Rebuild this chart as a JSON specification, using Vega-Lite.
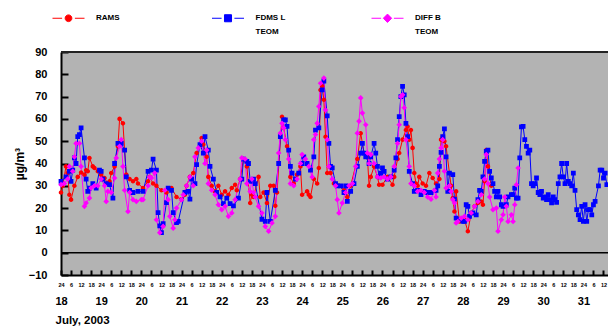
{
"$schema":"https://vega.github.io/schema/vega-lite/v6.json",
"width":547,"height":223,
"autosize":{"type":"none"},
"padding":{"left":61,"top":52,"right":0,"bottom":52},
"config":{"view":{"stroke":null,"fill":"#b3b3b3"},"font":"Liberation Sans","axis":{"grid":false},"axisY":{"labelOverlap":false,"labelFlush":false}},
"data":{"values":[
{"s":"RAMS","h":0,"v":27},{"s":"RAMS","h":1,"v":30},{"s":"RAMS","h":3,"v":38.7},{"s":"RAMS","h":4,"v":35.7},{"s":"RAMS","h":5,"v":26},{"s":"RAMS","h":6,"v":23.8},{"s":"RAMS","h":8,"v":30},{"s":"RAMS","h":10,"v":34},{"s":"RAMS","h":12,"v":36},{"s":"RAMS","h":14,"v":35},{"s":"RAMS","h":15,"v":37},{"s":"RAMS","h":16,"v":36.5},{"s":"RAMS","h":17,"v":42.5},{"s":"RAMS","h":19,"v":38.7},{"s":"RAMS","h":20,"v":38},{"s":"RAMS","h":22,"v":36.5},{"s":"RAMS","h":24,"v":35},{"s":"RAMS","h":26,"v":33.5},{"s":"RAMS","h":28,"v":31},{"s":"RAMS","h":29,"v":32},{"s":"RAMS","h":30,"v":35.7},{"s":"RAMS","h":32,"v":38.7},{"s":"RAMS","h":34,"v":47.7},{"s":"RAMS","h":35,"v":60},{"s":"RAMS","h":37,"v":58},{"s":"RAMS","h":38,"v":46},{"s":"RAMS","h":39,"v":35},{"s":"RAMS","h":41,"v":33},{"s":"RAMS","h":43,"v":32},{"s":"RAMS","h":45,"v":33},{"s":"RAMS","h":46,"v":31},{"s":"RAMS","h":49,"v":29},{"s":"RAMS","h":52,"v":32},{"s":"RAMS","h":53,"v":34},{"s":"RAMS","h":55,"v":31},{"s":"RAMS","h":57,"v":30},{"s":"RAMS","h":60,"v":28},{"s":"RAMS","h":63,"v":27},{"s":"RAMS","h":66,"v":29},{"s":"RAMS","h":69,"v":25},{"s":"RAMS","h":72,"v":24},{"s":"RAMS","h":74,"v":26},{"s":"RAMS","h":75,"v":30},{"s":"RAMS","h":77,"v":34},{"s":"RAMS","h":79,"v":35.7},{"s":"RAMS","h":81,"v":44.7},{"s":"RAMS","h":84,"v":51.4},{"s":"RAMS","h":85,"v":48.5},{"s":"RAMS","h":87,"v":43},{"s":"RAMS","h":88,"v":34},{"s":"RAMS","h":90,"v":30},{"s":"RAMS","h":92,"v":27.5},{"s":"RAMS","h":94,"v":30},{"s":"RAMS","h":96,"v":26},{"s":"RAMS","h":98,"v":27.5},{"s":"RAMS","h":100,"v":26},{"s":"RAMS","h":102,"v":29},{"s":"RAMS","h":104,"v":30.5},{"s":"RAMS","h":105,"v":28},{"s":"RAMS","h":107,"v":33},{"s":"RAMS","h":109,"v":42},{"s":"RAMS","h":111,"v":38.7},{"s":"RAMS","h":113,"v":22.3},{"s":"RAMS","h":114,"v":26},{"s":"RAMS","h":115,"v":25},{"s":"RAMS","h":118,"v":34},{"s":"RAMS","h":119,"v":25},{"s":"RAMS","h":121,"v":27},{"s":"RAMS","h":123,"v":22.3},{"s":"RAMS","h":125,"v":30},{"s":"RAMS","h":127,"v":30},{"s":"RAMS","h":128,"v":21},{"s":"RAMS","h":129,"v":27},{"s":"RAMS","h":132,"v":61},{"s":"RAMS","h":133,"v":56},{"s":"RAMS","h":135,"v":47.7},{"s":"RAMS","h":137,"v":34},{"s":"RAMS","h":139,"v":31},{"s":"RAMS","h":141,"v":35},{"s":"RAMS","h":143,"v":38.7},{"s":"RAMS","h":144,"v":26},{"s":"RAMS","h":147,"v":27.5},{"s":"RAMS","h":148,"v":26},{"s":"RAMS","h":149,"v":25},{"s":"RAMS","h":151,"v":33},{"s":"RAMS","h":153,"v":31},{"s":"RAMS","h":154,"v":38},{"s":"RAMS","h":155,"v":73},{"s":"RAMS","h":156,"v":74.6},{"s":"RAMS","h":157,"v":68.6},{"s":"RAMS","h":158,"v":52},{"s":"RAMS","h":159,"v":35.7},{"s":"RAMS","h":161,"v":35.7},{"s":"RAMS","h":163,"v":31},{"s":"RAMS","h":166,"v":30},{"s":"RAMS","h":169,"v":28},{"s":"RAMS","h":171,"v":25},{"s":"RAMS","h":173,"v":30},{"s":"RAMS","h":177,"v":42},{"s":"RAMS","h":179,"v":53.6},{"s":"RAMS","h":181,"v":44.7},{"s":"RAMS","h":183,"v":43},{"s":"RAMS","h":184,"v":30},{"s":"RAMS","h":185,"v":34},{"s":"RAMS","h":187,"v":38.7},{"s":"RAMS","h":189,"v":34},{"s":"RAMS","h":190,"v":30.5},{"s":"RAMS","h":192,"v":30.5},{"s":"RAMS","h":195,"v":34},{"s":"RAMS","h":198,"v":30.5},{"s":"RAMS","h":199,"v":34},{"s":"RAMS","h":201,"v":42},{"s":"RAMS","h":202,"v":44.7},{"s":"RAMS","h":204,"v":50.7},{"s":"RAMS","h":206,"v":55},{"s":"RAMS","h":207,"v":56.6},{"s":"RAMS","h":208,"v":50.7},{"s":"RAMS","h":209,"v":55},{"s":"RAMS","h":210,"v":47},{"s":"RAMS","h":211,"v":35.7},{"s":"RAMS","h":212,"v":31},{"s":"RAMS","h":213,"v":30},{"s":"RAMS","h":214,"v":34},{"s":"RAMS","h":216,"v":31},{"s":"RAMS","h":218,"v":30},{"s":"RAMS","h":220,"v":35.7},{"s":"RAMS","h":222,"v":33.5},{"s":"RAMS","h":224,"v":31},{"s":"RAMS","h":226,"v":33},{"s":"RAMS","h":227,"v":50.7},{"s":"RAMS","h":228,"v":52},{"s":"RAMS","h":229,"v":50},{"s":"RAMS","h":230,"v":47.7},{"s":"RAMS","h":232,"v":35.7},{"s":"RAMS","h":233,"v":30},{"s":"RAMS","h":234,"v":24.5},{"s":"RAMS","h":235,"v":18.5},{"s":"RAMS","h":236,"v":27.5},{"s":"RAMS","h":238,"v":14},{"s":"RAMS","h":241,"v":14.8},{"s":"RAMS","h":243,"v":9.6},{"s":"RAMS","h":245,"v":17.8},{"s":"RAMS","h":247,"v":20.8},{"s":"RAMS","h":249,"v":22.3},{"s":"RAMS","h":251,"v":23},{"s":"RAMS","h":252,"v":21.5},{"s":"RAMS","h":253,"v":32},{"s":"RAMS","h":254,"v":46},{"s":"RAMS","h":255,"v":38.7},{"s":"RAMS","h":257,"v":30},
{"s":"FDMS L TEOM","h":0,"v":32},{"s":"FDMS L TEOM","h":3,"v":34},{"s":"FDMS L TEOM","h":5,"v":36.5},{"s":"FDMS L TEOM","h":6,"v":32},{"s":"FDMS L TEOM","h":7,"v":37},{"s":"FDMS L TEOM","h":8,"v":42.5},{"s":"FDMS L TEOM","h":9,"v":40},{"s":"FDMS L TEOM","h":10,"v":52},{"s":"FDMS L TEOM","h":11,"v":53},{"s":"FDMS L TEOM","h":12,"v":56},{"s":"FDMS L TEOM","h":14,"v":42.5},{"s":"FDMS L TEOM","h":15,"v":33},{"s":"FDMS L TEOM","h":16,"v":27.5},{"s":"FDMS L TEOM","h":17,"v":29},{"s":"FDMS L TEOM","h":19,"v":31},{"s":"FDMS L TEOM","h":21,"v":29},{"s":"FDMS L TEOM","h":23,"v":37},{"s":"FDMS L TEOM","h":24,"v":36.5},{"s":"FDMS L TEOM","h":25,"v":33},{"s":"FDMS L TEOM","h":27,"v":31},{"s":"FDMS L TEOM","h":29,"v":30.5},{"s":"FDMS L TEOM","h":31,"v":24.5},{"s":"FDMS L TEOM","h":32,"v":40},{"s":"FDMS L TEOM","h":34,"v":49},{"s":"FDMS L TEOM","h":36,"v":49},{"s":"FDMS L TEOM","h":38,"v":46},{"s":"FDMS L TEOM","h":39,"v":34},{"s":"FDMS L TEOM","h":41,"v":28},{"s":"FDMS L TEOM","h":43,"v":27},{"s":"FDMS L TEOM","h":46,"v":27.5},{"s":"FDMS L TEOM","h":49,"v":27.5},{"s":"FDMS L TEOM","h":52,"v":36.5},{"s":"FDMS L TEOM","h":54,"v":37},{"s":"FDMS L TEOM","h":55,"v":42},{"s":"FDMS L TEOM","h":57,"v":37},{"s":"FDMS L TEOM","h":58,"v":18},{"s":"FDMS L TEOM","h":59,"v":12},{"s":"FDMS L TEOM","h":60,"v":9},{"s":"FDMS L TEOM","h":61,"v":13},{"s":"FDMS L TEOM","h":63,"v":22.5},{"s":"FDMS L TEOM","h":64,"v":29},{"s":"FDMS L TEOM","h":66,"v":28},{"s":"FDMS L TEOM","h":67,"v":18},{"s":"FDMS L TEOM","h":69,"v":13.5},{"s":"FDMS L TEOM","h":70,"v":14},{"s":"FDMS L TEOM","h":74,"v":27},{"s":"FDMS L TEOM","h":76,"v":27.5},{"s":"FDMS L TEOM","h":77,"v":24},{"s":"FDMS L TEOM","h":78,"v":33},{"s":"FDMS L TEOM","h":80,"v":31},{"s":"FDMS L TEOM","h":81,"v":39.5},{"s":"FDMS L TEOM","h":83,"v":48.5},{"s":"FDMS L TEOM","h":85,"v":44.7},{"s":"FDMS L TEOM","h":86,"v":52},{"s":"FDMS L TEOM","h":88,"v":46},{"s":"FDMS L TEOM","h":89,"v":38.7},{"s":"FDMS L TEOM","h":91,"v":33},{"s":"FDMS L TEOM","h":93,"v":27},{"s":"FDMS L TEOM","h":95,"v":25},{"s":"FDMS L TEOM","h":97,"v":22},{"s":"FDMS L TEOM","h":99,"v":24.5},{"s":"FDMS L TEOM","h":101,"v":22},{"s":"FDMS L TEOM","h":103,"v":21},{"s":"FDMS L TEOM","h":106,"v":24.5},{"s":"FDMS L TEOM","h":108,"v":33},{"s":"FDMS L TEOM","h":109,"v":42},{"s":"FDMS L TEOM","h":111,"v":41},{"s":"FDMS L TEOM","h":112,"v":40},{"s":"FDMS L TEOM","h":113,"v":32},{"s":"FDMS L TEOM","h":115,"v":33},{"s":"FDMS L TEOM","h":116,"v":31},{"s":"FDMS L TEOM","h":120,"v":15},{"s":"FDMS L TEOM","h":122,"v":14},{"s":"FDMS L TEOM","h":123,"v":27},{"s":"FDMS L TEOM","h":125,"v":14},{"s":"FDMS L TEOM","h":128,"v":28},{"s":"FDMS L TEOM","h":130,"v":40},{"s":"FDMS L TEOM","h":131,"v":52},{"s":"FDMS L TEOM","h":133,"v":59.6},{"s":"FDMS L TEOM","h":134,"v":59.6},{"s":"FDMS L TEOM","h":135,"v":56.6},{"s":"FDMS L TEOM","h":136,"v":46},{"s":"FDMS L TEOM","h":137,"v":38.7},{"s":"FDMS L TEOM","h":138,"v":35.7},{"s":"FDMS L TEOM","h":140,"v":33},{"s":"FDMS L TEOM","h":142,"v":35.7},{"s":"FDMS L TEOM","h":144,"v":40},{"s":"FDMS L TEOM","h":145,"v":43},{"s":"FDMS L TEOM","h":147,"v":40},{"s":"FDMS L TEOM","h":149,"v":37},{"s":"FDMS L TEOM","h":151,"v":43},{"s":"FDMS L TEOM","h":152,"v":55},{"s":"FDMS L TEOM","h":154,"v":56},{"s":"FDMS L TEOM","h":156,"v":73},{"s":"FDMS L TEOM","h":157,"v":77},{"s":"FDMS L TEOM","h":159,"v":61.4},{"s":"FDMS L TEOM","h":160,"v":49},{"s":"FDMS L TEOM","h":161,"v":38.7},{"s":"FDMS L TEOM","h":162,"v":38},{"s":"FDMS L TEOM","h":164,"v":31},{"s":"FDMS L TEOM","h":165,"v":30},{"s":"FDMS L TEOM","h":167,"v":30},{"s":"FDMS L TEOM","h":169,"v":27},{"s":"FDMS L TEOM","h":170,"v":30},{"s":"FDMS L TEOM","h":171,"v":23},{"s":"FDMS L TEOM","h":173,"v":27.5},{"s":"FDMS L TEOM","h":175,"v":31},{"s":"FDMS L TEOM","h":177,"v":38.7},{"s":"FDMS L TEOM","h":179,"v":44.7},{"s":"FDMS L TEOM","h":180,"v":49},{"s":"FDMS L TEOM","h":181,"v":44.7},{"s":"FDMS L TEOM","h":182,"v":43},{"s":"FDMS L TEOM","h":184,"v":40},{"s":"FDMS L TEOM","h":185,"v":43},{"s":"FDMS L TEOM","h":187,"v":49},{"s":"FDMS L TEOM","h":188,"v":44.7},{"s":"FDMS L TEOM","h":189,"v":38.7},{"s":"FDMS L TEOM","h":190,"v":34},{"s":"FDMS L TEOM","h":191,"v":35.7},{"s":"FDMS L TEOM","h":192,"v":38},{"s":"FDMS L TEOM","h":193,"v":36.5},{"s":"FDMS L TEOM","h":195,"v":33},{"s":"FDMS L TEOM","h":197,"v":34},{"s":"FDMS L TEOM","h":199,"v":37},{"s":"FDMS L TEOM","h":200,"v":42.5},{"s":"FDMS L TEOM","h":201,"v":50.7},{"s":"FDMS L TEOM","h":202,"v":61},{"s":"FDMS L TEOM","h":203,"v":70},{"s":"FDMS L TEOM","h":204,"v":74.6},{"s":"FDMS L TEOM","h":205,"v":70.8},{"s":"FDMS L TEOM","h":206,"v":58},{"s":"FDMS L TEOM","h":207,"v":52},{"s":"FDMS L TEOM","h":208,"v":36.5},{"s":"FDMS L TEOM","h":210,"v":31},{"s":"FDMS L TEOM","h":211,"v":27.5},{"s":"FDMS L TEOM","h":213,"v":28},{"s":"FDMS L TEOM","h":215,"v":26},{"s":"FDMS L TEOM","h":217,"v":27.5},{"s":"FDMS L TEOM","h":219,"v":27},{"s":"FDMS L TEOM","h":221,"v":27},{"s":"FDMS L TEOM","h":224,"v":28},{"s":"FDMS L TEOM","h":225,"v":30},{"s":"FDMS L TEOM","h":226,"v":38.7},{"s":"FDMS L TEOM","h":227,"v":45},{"s":"FDMS L TEOM","h":228,"v":52},{"s":"FDMS L TEOM","h":229,"v":55.5},{"s":"FDMS L TEOM","h":230,"v":43},{"s":"FDMS L TEOM","h":231,"v":27.5},{"s":"FDMS L TEOM","h":232,"v":35.7},{"s":"FDMS L TEOM","h":234,"v":35},{"s":"FDMS L TEOM","h":235,"v":24},{"s":"FDMS L TEOM","h":236,"v":15.5},{"s":"FDMS L TEOM","h":238,"v":14.8},{"s":"FDMS L TEOM","h":240,"v":14},{"s":"FDMS L TEOM","h":241,"v":14},{"s":"FDMS L TEOM","h":242,"v":21.5},{"s":"FDMS L TEOM","h":243,"v":20.8},{"s":"FDMS L TEOM","h":244,"v":16.3},{"s":"FDMS L TEOM","h":246,"v":17.8},{"s":"FDMS L TEOM","h":248,"v":17},{"s":"FDMS L TEOM","h":249,"v":23.8},{"s":"FDMS L TEOM","h":250,"v":28},{"s":"FDMS L TEOM","h":251,"v":27.5},{"s":"FDMS L TEOM","h":252,"v":34},{"s":"FDMS L TEOM","h":253,"v":41},{"s":"FDMS L TEOM","h":254,"v":45.4},{"s":"FDMS L TEOM","h":255,"v":46},{"s":"FDMS L TEOM","h":256,"v":36.5},{"s":"FDMS L TEOM","h":257,"v":33.5},{"s":"FDMS L TEOM","h":258,"v":31},{"s":"FDMS L TEOM","h":259,"v":27.5},{"s":"FDMS L TEOM","h":260,"v":25},{"s":"FDMS L TEOM","h":261,"v":27.5},{"s":"FDMS L TEOM","h":262,"v":25},{"s":"FDMS L TEOM","h":263,"v":21.5},{"s":"FDMS L TEOM","h":264,"v":20.8},{"s":"FDMS L TEOM","h":266,"v":21.5},{"s":"FDMS L TEOM","h":267,"v":25},{"s":"FDMS L TEOM","h":269,"v":26},{"s":"FDMS L TEOM","h":270,"v":26},{"s":"FDMS L TEOM","h":271,"v":29},{"s":"FDMS L TEOM","h":272,"v":24.5},{"s":"FDMS L TEOM","h":273,"v":24.5},{"s":"FDMS L TEOM","h":274,"v":42.5},{"s":"FDMS L TEOM","h":275,"v":56.4},{"s":"FDMS L TEOM","h":276,"v":56.6},{"s":"FDMS L TEOM","h":277,"v":50.7},{"s":"FDMS L TEOM","h":278,"v":47.7},{"s":"FDMS L TEOM","h":279,"v":44.7},{"s":"FDMS L TEOM","h":280,"v":46},{"s":"FDMS L TEOM","h":281,"v":31},{"s":"FDMS L TEOM","h":282,"v":30},{"s":"FDMS L TEOM","h":283,"v":31},{"s":"FDMS L TEOM","h":284,"v":33.5},{"s":"FDMS L TEOM","h":285,"v":27},{"s":"FDMS L TEOM","h":286,"v":26},{"s":"FDMS L TEOM","h":287,"v":27.5},{"s":"FDMS L TEOM","h":288,"v":24.5},{"s":"FDMS L TEOM","h":289,"v":25},{"s":"FDMS L TEOM","h":290,"v":23.8},{"s":"FDMS L TEOM","h":291,"v":26},{"s":"FDMS L TEOM","h":292,"v":23.8},{"s":"FDMS L TEOM","h":293,"v":22.3},{"s":"FDMS L TEOM","h":294,"v":25},{"s":"FDMS L TEOM","h":295,"v":23.8},{"s":"FDMS L TEOM","h":296,"v":22.6},{"s":"FDMS L TEOM","h":297,"v":31},{"s":"FDMS L TEOM","h":298,"v":34},{"s":"FDMS L TEOM","h":299,"v":40},{"s":"FDMS L TEOM","h":300,"v":34},{"s":"FDMS L TEOM","h":301,"v":31},{"s":"FDMS L TEOM","h":302,"v":40},{"s":"FDMS L TEOM","h":303,"v":32},{"s":"FDMS L TEOM","h":304,"v":31},{"s":"FDMS L TEOM","h":305,"v":30},{"s":"FDMS L TEOM","h":306,"v":35.7},{"s":"FDMS L TEOM","h":307,"v":28},{"s":"FDMS L TEOM","h":308,"v":19.3},{"s":"FDMS L TEOM","h":309,"v":17},{"s":"FDMS L TEOM","h":310,"v":14.8},{"s":"FDMS L TEOM","h":311,"v":20.8},{"s":"FDMS L TEOM","h":312,"v":14},{"s":"FDMS L TEOM","h":313,"v":21.5},{"s":"FDMS L TEOM","h":314,"v":14},{"s":"FDMS L TEOM","h":315,"v":19.3},{"s":"FDMS L TEOM","h":316,"v":19.3},{"s":"FDMS L TEOM","h":317,"v":17},{"s":"FDMS L TEOM","h":318,"v":21.5},{"s":"FDMS L TEOM","h":319,"v":23},{"s":"FDMS L TEOM","h":321,"v":30},{"s":"FDMS L TEOM","h":322,"v":37},{"s":"FDMS L TEOM","h":323,"v":37},{"s":"FDMS L TEOM","h":324,"v":33.5},{"s":"FDMS L TEOM","h":325,"v":35.7},{"s":"FDMS L TEOM","h":326,"v":30.5},
{"s":"DIFF B TEOM","h":0,"v":30.5},{"s":"DIFF B TEOM","h":2,"v":31},{"s":"DIFF B TEOM","h":4,"v":33},{"s":"DIFF B TEOM","h":5,"v":38.7},{"s":"DIFF B TEOM","h":7,"v":36.5},{"s":"DIFF B TEOM","h":8,"v":43},{"s":"DIFF B TEOM","h":9,"v":49},{"s":"DIFF B TEOM","h":11,"v":49},{"s":"DIFF B TEOM","h":12,"v":38.7},{"s":"DIFF B TEOM","h":14,"v":20.8},{"s":"DIFF B TEOM","h":15,"v":22.3},{"s":"DIFF B TEOM","h":17,"v":24.5},{"s":"DIFF B TEOM","h":18,"v":29},{"s":"DIFF B TEOM","h":20,"v":30},{"s":"DIFF B TEOM","h":22,"v":30},{"s":"DIFF B TEOM","h":24,"v":33},{"s":"DIFF B TEOM","h":26,"v":30},{"s":"DIFF B TEOM","h":27,"v":23},{"s":"DIFF B TEOM","h":28,"v":27.5},{"s":"DIFF B TEOM","h":30,"v":27},{"s":"DIFF B TEOM","h":32,"v":33.5},{"s":"DIFF B TEOM","h":33,"v":42.5},{"s":"DIFF B TEOM","h":35,"v":47.7},{"s":"DIFF B TEOM","h":36,"v":50.7},{"s":"DIFF B TEOM","h":37,"v":38.7},{"s":"DIFF B TEOM","h":38,"v":28},{"s":"DIFF B TEOM","h":40,"v":18.5},{"s":"DIFF B TEOM","h":41,"v":27},{"s":"DIFF B TEOM","h":43,"v":23.8},{"s":"DIFF B TEOM","h":45,"v":23},{"s":"DIFF B TEOM","h":48,"v":23.8},{"s":"DIFF B TEOM","h":49,"v":23.8},{"s":"DIFF B TEOM","h":52,"v":30},{"s":"DIFF B TEOM","h":53,"v":34},{"s":"DIFF B TEOM","h":54,"v":33.5},{"s":"DIFF B TEOM","h":56,"v":35.7},{"s":"DIFF B TEOM","h":57,"v":14.8},{"s":"DIFF B TEOM","h":59,"v":9},{"s":"DIFF B TEOM","h":61,"v":11.8},{"s":"DIFF B TEOM","h":62,"v":28},{"s":"DIFF B TEOM","h":64,"v":23.8},{"s":"DIFF B TEOM","h":65,"v":16.3},{"s":"DIFF B TEOM","h":67,"v":11},{"s":"DIFF B TEOM","h":68,"v":14.8},{"s":"DIFF B TEOM","h":69,"v":20},{"s":"DIFF B TEOM","h":72,"v":23.8},{"s":"DIFF B TEOM","h":73,"v":26},{"s":"DIFF B TEOM","h":75,"v":30},{"s":"DIFF B TEOM","h":77,"v":34},{"s":"DIFF B TEOM","h":79,"v":30},{"s":"DIFF B TEOM","h":80,"v":43},{"s":"DIFF B TEOM","h":82,"v":47},{"s":"DIFF B TEOM","h":84,"v":50},{"s":"DIFF B TEOM","h":86,"v":40},{"s":"DIFF B TEOM","h":87,"v":46},{"s":"DIFF B TEOM","h":88,"v":31},{"s":"DIFF B TEOM","h":90,"v":28},{"s":"DIFF B TEOM","h":92,"v":26},{"s":"DIFF B TEOM","h":94,"v":21.5},{"s":"DIFF B TEOM","h":96,"v":19.3},{"s":"DIFF B TEOM","h":98,"v":20.8},{"s":"DIFF B TEOM","h":100,"v":16.3},{"s":"DIFF B TEOM","h":102,"v":17.8},{"s":"DIFF B TEOM","h":104,"v":23.8},{"s":"DIFF B TEOM","h":107,"v":33},{"s":"DIFF B TEOM","h":108,"v":42.5},{"s":"DIFF B TEOM","h":110,"v":42},{"s":"DIFF B TEOM","h":111,"v":31},{"s":"DIFF B TEOM","h":113,"v":27.5},{"s":"DIFF B TEOM","h":114,"v":33},{"s":"DIFF B TEOM","h":115,"v":27},{"s":"DIFF B TEOM","h":116,"v":25},{"s":"DIFF B TEOM","h":118,"v":20.8},{"s":"DIFF B TEOM","h":120,"v":17.8},{"s":"DIFF B TEOM","h":122,"v":11.8},{"s":"DIFF B TEOM","h":124,"v":9.6},{"s":"DIFF B TEOM","h":126,"v":13.3},{"s":"DIFF B TEOM","h":128,"v":16.3},{"s":"DIFF B TEOM","h":130,"v":44.7},{"s":"DIFF B TEOM","h":131,"v":53.6},{"s":"DIFF B TEOM","h":132,"v":58},{"s":"DIFF B TEOM","h":133,"v":56},{"s":"DIFF B TEOM","h":134,"v":50.7},{"s":"DIFF B TEOM","h":136,"v":42},{"s":"DIFF B TEOM","h":137,"v":31},{"s":"DIFF B TEOM","h":139,"v":30},{"s":"DIFF B TEOM","h":141,"v":33},{"s":"DIFF B TEOM","h":143,"v":40},{"s":"DIFF B TEOM","h":144,"v":44},{"s":"DIFF B TEOM","h":146,"v":42},{"s":"DIFF B TEOM","h":148,"v":38.7},{"s":"DIFF B TEOM","h":150,"v":34},{"s":"DIFF B TEOM","h":151,"v":50.7},{"s":"DIFF B TEOM","h":152,"v":53},{"s":"DIFF B TEOM","h":153,"v":58},{"s":"DIFF B TEOM","h":154,"v":65.6},{"s":"DIFF B TEOM","h":155,"v":76},{"s":"DIFF B TEOM","h":157,"v":78.3},{"s":"DIFF B TEOM","h":158,"v":64},{"s":"DIFF B TEOM","h":159,"v":50.7},{"s":"DIFF B TEOM","h":160,"v":38.7},{"s":"DIFF B TEOM","h":162,"v":33},{"s":"DIFF B TEOM","h":164,"v":30},{"s":"DIFF B TEOM","h":165,"v":23.8},{"s":"DIFF B TEOM","h":166,"v":17.8},{"s":"DIFF B TEOM","h":168,"v":22.3},{"s":"DIFF B TEOM","h":170,"v":27},{"s":"DIFF B TEOM","h":172,"v":30},{"s":"DIFF B TEOM","h":174,"v":31},{"s":"DIFF B TEOM","h":176,"v":38.7},{"s":"DIFF B TEOM","h":177,"v":53.6},{"s":"DIFF B TEOM","h":178,"v":59},{"s":"DIFF B TEOM","h":179,"v":69.4},{"s":"DIFF B TEOM","h":180,"v":62.6},{"s":"DIFF B TEOM","h":182,"v":57.4},{"s":"DIFF B TEOM","h":183,"v":44.7},{"s":"DIFF B TEOM","h":184,"v":40},{"s":"DIFF B TEOM","h":185,"v":44},{"s":"DIFF B TEOM","h":187,"v":40},{"s":"DIFF B TEOM","h":189,"v":34},{"s":"DIFF B TEOM","h":191,"v":33.5},{"s":"DIFF B TEOM","h":193,"v":34},{"s":"DIFF B TEOM","h":195,"v":33},{"s":"DIFF B TEOM","h":197,"v":34},{"s":"DIFF B TEOM","h":199,"v":38.7},{"s":"DIFF B TEOM","h":201,"v":49},{"s":"DIFF B TEOM","h":202,"v":57.4},{"s":"DIFF B TEOM","h":203,"v":70},{"s":"DIFF B TEOM","h":204,"v":70.8},{"s":"DIFF B TEOM","h":205,"v":65},{"s":"DIFF B TEOM","h":206,"v":50.7},{"s":"DIFF B TEOM","h":208,"v":38.7},{"s":"DIFF B TEOM","h":209,"v":31},{"s":"DIFF B TEOM","h":211,"v":30},{"s":"DIFF B TEOM","h":213,"v":27.5},{"s":"DIFF B TEOM","h":215,"v":28},{"s":"DIFF B TEOM","h":217,"v":27},{"s":"DIFF B TEOM","h":219,"v":25},{"s":"DIFF B TEOM","h":221,"v":24},{"s":"DIFF B TEOM","h":223,"v":28},{"s":"DIFF B TEOM","h":224,"v":25},{"s":"DIFF B TEOM","h":225,"v":35.7},{"s":"DIFF B TEOM","h":226,"v":42},{"s":"DIFF B TEOM","h":227,"v":47},{"s":"DIFF B TEOM","h":228,"v":50.7},{"s":"DIFF B TEOM","h":229,"v":36.5},{"s":"DIFF B TEOM","h":230,"v":29},{"s":"DIFF B TEOM","h":232,"v":30},{"s":"DIFF B TEOM","h":233,"v":27.5},{"s":"DIFF B TEOM","h":234,"v":23.8},{"s":"DIFF B TEOM","h":235,"v":22.3},{"s":"DIFF B TEOM","h":236,"v":13.3},{"s":"DIFF B TEOM","h":237,"v":14},{"s":"DIFF B TEOM","h":239,"v":15.5},{"s":"DIFF B TEOM","h":241,"v":16.3},{"s":"DIFF B TEOM","h":243,"v":14.8},{"s":"DIFF B TEOM","h":245,"v":17.8},{"s":"DIFF B TEOM","h":247,"v":20.8},{"s":"DIFF B TEOM","h":249,"v":23},{"s":"DIFF B TEOM","h":251,"v":26},{"s":"DIFF B TEOM","h":253,"v":33},{"s":"DIFF B TEOM","h":254,"v":44},{"s":"DIFF B TEOM","h":255,"v":31},{"s":"DIFF B TEOM","h":256,"v":25},{"s":"DIFF B TEOM","h":258,"v":19.3},{"s":"DIFF B TEOM","h":260,"v":20},{"s":"DIFF B TEOM","h":261,"v":9.6},{"s":"DIFF B TEOM","h":263,"v":14.8},{"s":"DIFF B TEOM","h":264,"v":17},{"s":"DIFF B TEOM","h":265,"v":25},{"s":"DIFF B TEOM","h":266,"v":20.8},{"s":"DIFF B TEOM","h":267,"v":14},{"s":"DIFF B TEOM","h":269,"v":17},{"s":"DIFF B TEOM","h":270,"v":14},{"s":"DIFF B TEOM","h":271,"v":21.5},{"s":"DIFF B TEOM","h":272,"v":30.5},{"s":"DIFF B TEOM","h":273,"v":38}
]},
"layer":[
{
"encoding":{
"x":{"field":"h","type":"quantitative","scale":{"domain":[0,326.7],"nice":false,"zero":false},
"axis":{"values":[0,6,12,18,24,30,36,42,48,54,60,66,72,78,84,90,96,102,108,114,120,126,132,138,144,150,156,162,168,174,180,186,192,198,204,210,216,222,228,234,240,246,252,258,264,270,276,282,288,294,300,306,312,318,324],"tickCount":100,
"labelExpr":"datum.value % 24 == 0 ? '24' : '' + (datum.value % 24)","title":null,"tickSize":-5,"tickWidth":2,"tickColor":"black","domainColor":"black","domainWidth":2,"labelFontSize":5.5,"labelFontWeight":"bold","labelColor":"black","labelPadding":12,"labelFlush":false,"labelOverlap":false,"labelBound":false}},
"y":{"field":"v","type":"quantitative","scale":{"domain":[-10,90],"nice":false,"zero":false},
"axis":{"values":[-10,0,10,20,30,40,50,60,70,80,90],"tickCount":20,"title":"µg/m³","titleFontSize":12,"titleFontWeight":"bold","titleColor":"black","titleX":-42,"titleY":111.5,"titleAngle":-90,"titleBaseline":"middle","titleAlign":"center","labelFontSize":11,"labelFontWeight":"bold","labelColor":"black","labelPadding":21,"tickSize":-7,"tickWidth":2,"tickColor":"black","domainColor":"black","domainWidth":2,"labelFlush":false,"labelOverlap":false}},
"color":{"field":"s","type":"nominal","scale":{"domain":["RAMS","FDMS L TEOM","DIFF B TEOM"],"range":["#ff0000","#0000ff","#ff00ff"]},
"legend":{"title":null,"orient":"none","legendX":-9,"legendY":-50.5,"direction":"horizontal","columns":3,"gridAlign":"all","columnPadding":83.5,"padding":0,"symbolSize":1024,"symbolStrokeWidth":1,"labelOffset":11,"labelFontSize":8,"labelFontWeight":"bold","labelColor":"black","labelBaseline":"middle","labelExpr":"datum.label == 'RAMS' ? ['RAMS',''] : datum.label == 'FDMS L TEOM' ? ['FDMS L','TEOM'] : ['DIFF B','TEOM']","encode":{"symbols":{"update":{"stroke":{"scale":"color","field":"value"},"strokeWidth":{"value":1}}},"labels":{"update":{"lineHeight":{"value":14}}}}}}
},
"layer":[
{"mark":{"type":"line","strokeWidth":1}},
{"mark":{"type":"point","filled":true,"size":470,"opacity":1},
"encoding":{"shape":{"field":"s","type":"nominal","scale":{"domain":["RAMS","FDMS L TEOM","DIFF B TEOM"],"range":["M-1,0H-0.4M0.4,0H1M-0.21,0A0.21,0.21,0,1,1,0.21,0A0.21,0.21,0,1,1,-0.21,0Z","M-1,0H-0.4M0.4,0H1M-0.22,-0.22H0.22V0.22H-0.22Z","M-1,0H-0.4M0.4,0H1M0,-0.26L0.26,0L0,0.26L-0.26,0Z"]},
"legend":{"title":null,"orient":"none","legendX":-9,"legendY":-50.5,"direction":"horizontal","columns":3,"gridAlign":"all","columnPadding":83.5,"padding":0,"symbolSize":1024,"symbolStrokeWidth":1,"labelOffset":11,"labelFontSize":8,"labelFontWeight":"bold","labelColor":"black","labelBaseline":"middle","labelExpr":"datum.label == 'RAMS' ? ['RAMS',''] : datum.label == 'FDMS L TEOM' ? ['FDMS L','TEOM'] : ['DIFF B','TEOM']","encode":{"symbols":{"update":{"stroke":{"scale":"color","field":"value"},"strokeWidth":{"value":1}}},"labels":{"update":{"lineHeight":{"value":14}}}}}}}}
]
},
{
"data":{"values":[{}]},
"mark":{"type":"rule","color":"black","strokeWidth":1.5},
"encoding":{
"x":{"datum":0,"type":"quantitative","scale":{"domain":[0,326.7],"nice":false,"zero":false},
"axis":{"values":[0,24,48,72,96,120,144,168,192,216,240,264,288,312],"tickCount":100,"labelExpr":"'' + (18 + datum.value / 24)","ticks":false,"domain":false,"labelFontSize":11,"labelFontWeight":"bold","labelColor":"black","labelPadding":20,"labelFlush":false,"labelOverlap":false,"orient":"bottom","title":"July, 2003","titleFontSize":11.5,"titleFontWeight":"bold","titleColor":"black","titleAlign":"left","titleAnchor":"start","titleX":-6,"titleY":45,"titleBaseline":"middle"}},
"x2":{"datum":326.7},
"y":{"datum":0,"type":"quantitative"}
}
},
{
"data":{"values":[{}]},
"mark":{"type":"rule","color":"#222222","strokeWidth":2},
"encoding":{"y":{"datum":90,"type":"quantitative"}}
}
],
"resolve":{"scale":{"x":"independent"},"axis":{"x":"independent"}}
}
